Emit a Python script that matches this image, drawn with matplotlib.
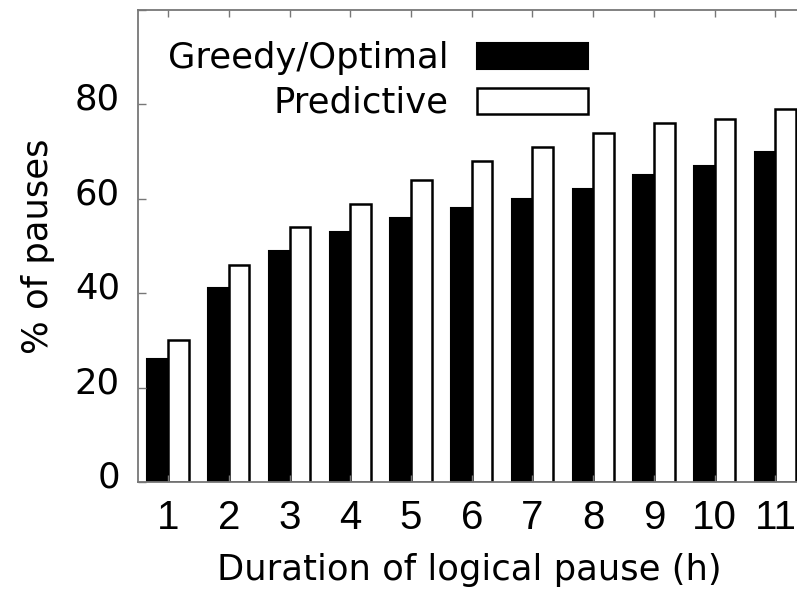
import matplotlib.pyplot as plt
from matplotlib.transforms import ScaledTranslation
import numpy as np

plt.rcParams['font.family'] = ['Liberation Sans', 'DejaVu Sans']

# pause duration categories (hours) and share of pauses covered
hours = [1, 2, 3, 4, 5, 6, 7, 8, 9, 10, 11]
greedy = [26, 41, 49, 53, 56, 58, 60, 62, 65, 67, 70]
predictive = [30, 46, 54, 59, 64, 68, 71, 74, 76, 77, 79]
yticks = [0, 20, 40, 60, 80]

W, H = 797, 592
fig = plt.figure(figsize=(W / 100, H / 100), dpi=100)
ax = fig.add_axes([138 / W, (H - 482) / H, (801 - 138) / W, (482 - 10) / H])

x = np.arange(len(hours)) + 1
bw = 0.34
ax.bar(x - bw / 2, greedy, bw, color='black', edgecolor='black', linewidth=1.5,
       label='Greedy/Optimal')
ax.bar(x + bw / 2, predictive, bw, color='white', edgecolor='black', linewidth=1.8,
       label='Predictive')

ax.set_xlim(0.506, 11.42)
ax.set_ylim(0, 100)
ax.set_xticks(x)
ax.set_xticklabels([str(h) for h in hours])
ax.set_yticks(yticks + [100])
ax.set_yticklabels([str(v) for v in yticks] + [''])

for s in ax.spines.values():
    s.set_color('#777777')
    s.set_linewidth(1.3)

word_font = 'DejaVu Sans'

ax.tick_params(axis='y', direction='in', length=6, width=1, color='#777777',
               labelsize=25.5, labelfontfamily=word_font, pad=13)
ax.tick_params(axis='x', direction='in', length=5, width=1, color='#777777',
               top=True, labelsize=29, pad=12.5)

# y labels sit a little above their tics
shift = ScaledTranslation(0, 0.08, fig.dpi_scale_trans)
for lab in ax.get_yticklabels():
    lab.set_transform(lab.get_transform() + shift)

ax.set_xlabel('Duration of logical pause (h)', fontsize=25.5, family=word_font)
ax.xaxis.label.set_va('baseline')
ax.xaxis.set_label_coords(0.5, (482 - 580) / 472)
ax.set_ylabel('% of pauses', fontsize=25.5, family=word_font)
ax.yaxis.set_label_coords((55 - 138) / 663, 0.5)

leg = ax.legend(loc='upper right', bbox_to_anchor=(588 / W, 1 - 41 / H),
                bbox_transform=fig.transFigure, frameon=False,
                prop={'family': word_font, 'size': 25.5}, markerfirst=False,
                handlelength=3.13, handleheight=0.76, handletextpad=0.8,
                labelspacing=0.31, borderpad=0, borderaxespad=0)
for t in leg.get_texts():
    t.set_ha('right')
leg._legend_box.align = 'right'

fig.savefig('out.png', dpi=100)
